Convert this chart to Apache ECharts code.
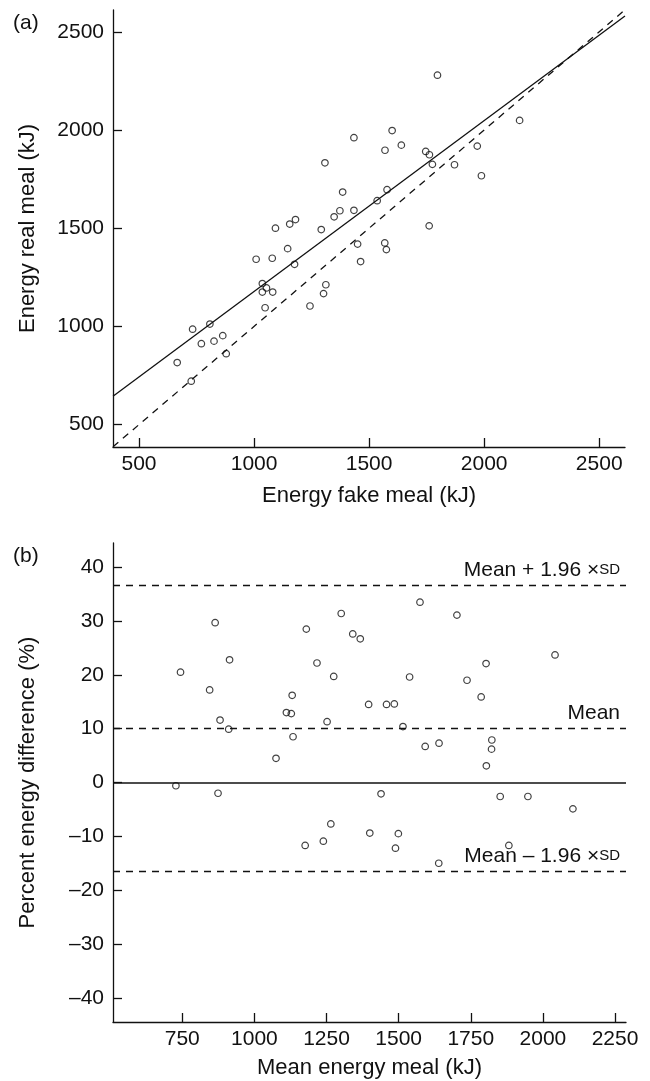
<!DOCTYPE html>
<html>
<head>
<meta charset="utf-8">
<script src="https://cdn.jsdelivr.net/npm/echarts@6/dist/echarts.min.js"></script>
<style>
html,body{margin:0;padding:0;background:#fff;}
#c{width:650px;height:1081px;}
</style>
</head>
<body>
<div id="c"></div>
<script>
// ---- Panel (a) data ----
var fakeMeal = [666,733,727,771,808,826,864,879,1009,1036,1036,1054,1048,1079,1081,1093,1146,1155,1180,1176,1243,1292,1302,1312,1308,1348,1373,1385,1434,1434,1450,1463,1535,1568,1575,1569,1578,1600,1640,1746,1762,1775,1761,1797,1871,1970,1988,2154];
var realMeal = [816,986,721,912,1012,925,953,861,1342,1218,1175,1196,1095,1347,1175,1500,1396,1521,1544,1316,1104,1493,1167,1212,1833,1558,1589,1684,1591,1961,1419,1330,1640,1425,1391,1897,1696,1997,1923,1891,1874,1825,1512,2279,1823,1918,1767,2049];
var fitLineX = [387, 2612];
var fitLineY = [644, 2580];
var identityX = [387, 2612];
var identityY = [387, 2612];
var ticksA = [500, 1000, 1500, 2000, 2500];

// ---- Panel (b) data ----
var meanEnergy = [728,744,845,864,874,881,911,914,1075,1111,1128,1131,1134,1176,1180,1217,1239,1252,1265,1275,1301,1341,1367,1396,1400,1439,1458,1485,1489,1499,1515,1538,1574,1592,1640,1639,1702,1737,1786,1803,1804,1823,1822,1852,1882,1948,2042,2104];
var pctDiff = [-0.6,20.5,17.2,29.7,-2.0,11.6,9.9,22.8,4.5,13.0,12.8,16.2,8.5,-11.7,28.5,22.2,-10.9,11.3,-7.7,19.7,31.4,27.6,26.7,14.5,-9.4,-2.1,14.5,14.6,-12.2,-9.5,10.4,19.6,33.5,6.7,7.3,-15.0,31.1,19.0,15.9,22.1,3.1,7.9,6.2,-2.6,-11.7,-2.6,23.7,-4.9];
var ticksBX = [750, 1000, 1250, 1500, 1750, 2000, 2250];
var ticksBY = [-40, -30, -20, -10, 0, 10, 20, 30, 40];
var limitValues = [36.6, 10.0, -16.5];
var limitLabels = ['{t|Mean + 1.96 ×}{s|SD}', '{t|Mean}', '{t|Mean – 1.96 ×}{s|SD}'];

var FONT = 'Liberation Sans';
var INK = '#111';

function pairs(xs, ys) {
  var out = [];
  for (var i = 0; i < xs.length; i++) out.push([xs[i], ys[i]]);
  return out;
}
function minusFmt(v) { return String(v).replace('-', '\u2013'); }

var axisLineStyle = {onZero: false, lineStyle: {color: INK, width: 1.3}};
var tickStyle = function (vals) {
  return {show: true, inside: true, length: 9, customValues: vals, lineStyle: {color: INK, width: 1.3}};
};
var labelStyle = function (vals, margin) {
  return {customValues: vals, color: INK, fontFamily: FONT, fontSize: 21, margin: margin, formatter: minusFmt};
};
var nameStyle = {color: INK, fontFamily: FONT, fontSize: 22};

var markLineData = limitValues.map(function (v, i) {
  return {
    yAxis: v,
    lineStyle: {type: [7, 6], color: INK, width: 1.3},
    label: {show: true, position: 'insideEndTop', formatter: limitLabels[i], distance: [6, 5],
      rich: {t: {fontFamily: FONT, fontSize: 21, color: INK}, s: {fontFamily: FONT, fontSize: 15, color: INK}}}
  };
});
markLineData.push({yAxis: 0, lineStyle: {type: 'solid', color: INK, width: 1.5}, label: {show: false}});

var option = {
  backgroundColor: '#fff',
  animation: false,
  grid: [
    {left: 113, top: 10, width: 512, height: 437},
    {left: 113, top: 543, width: 513, height: 479}
  ],
  xAxis: [
    {gridIndex: 0, type: 'value', min: 387, max: 2612, splitLine: {show: false},
      axisLine: axisLineStyle, axisTick: tickStyle(ticksA), axisLabel: labelStyle(ticksA, 7),
      name: 'Energy fake meal (kJ)', nameLocation: 'middle', nameGap: 38, nameTextStyle: nameStyle},
    {gridIndex: 1, type: 'value', min: 510, max: 2288, splitLine: {show: false},
      axisLine: axisLineStyle, axisTick: tickStyle(ticksBX), axisLabel: labelStyle(ticksBX, 7),
      name: 'Mean energy meal (kJ)', nameLocation: 'middle', nameGap: 35, nameTextStyle: nameStyle}
  ],
  yAxis: [
    {gridIndex: 0, type: 'value', min: 386, max: 2611, splitLine: {show: false},
      axisLine: axisLineStyle, axisTick: tickStyle(ticksA), axisLabel: labelStyle(ticksA, 9),
      name: 'Energy real meal (kJ)', nameLocation: 'middle', nameGap: 74, nameTextStyle: nameStyle},
    {gridIndex: 1, type: 'value', min: -44.5, max: 44.5, splitLine: {show: false},
      axisLine: axisLineStyle, axisTick: tickStyle(ticksBY), axisLabel: labelStyle(ticksBY, 9),
      name: 'Percent energy difference (%)', nameLocation: 'middle', nameGap: 74, nameTextStyle: nameStyle}
  ],
  graphic: [
    {type: 'text', left: 13, top: 13, style: {text: '(a)', font: '21px "Liberation Sans"', fill: INK}},
    {type: 'text', left: 13, top: 546, style: {text: '(b)', font: '21px "Liberation Sans"', fill: INK}}
  ],
  series: [
    {type: 'line', xAxisIndex: 0, yAxisIndex: 0, data: pairs(identityX, identityY), showSymbol: false, silent: true,
      lineStyle: {color: INK, width: 1.3, type: [7, 6]}},
    {type: 'line', xAxisIndex: 0, yAxisIndex: 0, data: pairs(fitLineX, fitLineY), showSymbol: false, silent: true,
      lineStyle: {color: INK, width: 1.3}},
    {type: 'scatter', xAxisIndex: 0, yAxisIndex: 0, data: pairs(fakeMeal, realMeal), symbol: 'circle', symbolSize: 6.5,
      itemStyle: {color: 'rgba(255,255,255,0)', borderColor: INK, borderWidth: 1.2}},
    {type: 'scatter', xAxisIndex: 1, yAxisIndex: 1, data: pairs(meanEnergy, pctDiff), symbol: 'circle', symbolSize: 6.5,
      itemStyle: {color: 'rgba(255,255,255,0)', borderColor: INK, borderWidth: 1.2},
      markLine: {silent: true, symbol: ['none', 'none'], data: markLineData}}
  ]
};

var chart = echarts.init(document.getElementById('c'), null, {renderer: 'canvas'});
chart.setOption(option);
</script>
</body>
</html>
